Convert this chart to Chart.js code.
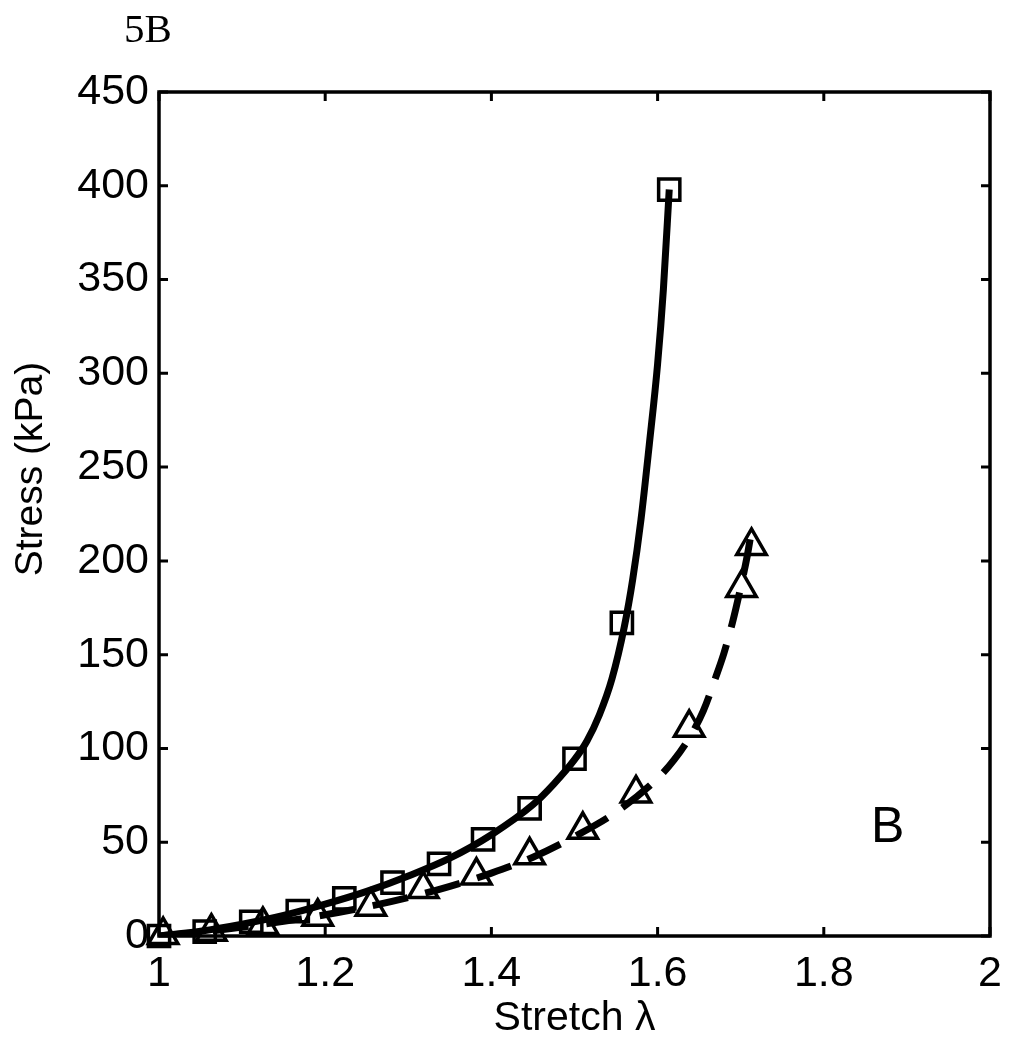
<!DOCTYPE html>
<html>
<head>
<meta charset="utf-8">
<script src="https://cdn.jsdelivr.net/npm/chart.js@4.4.0/dist/chart.umd.min.js"></script>
<style>
  html, body { margin: 0; padding: 0; background: #fff; }
</style>
</head>
<body>
<canvas id="chart" width="1017" height="1050"></canvas>
<script>
// measured points (squares, triangles)
const squareX = [1.0, 1.055, 1.111, 1.167, 1.223, 1.281, 1.337, 1.39, 1.446, 1.5, 1.557, 1.614];
const squareY = [0, 2.3, 7.6, 13.3, 20.1, 28.5, 38.5, 51.5, 68, 94.5, 167, 398];
const triangleX = [1.005, 1.063, 1.125, 1.191, 1.255, 1.318, 1.382, 1.446, 1.51, 1.574, 1.638, 1.701, 1.713];
const triangleY = [0.5, 2.3, 5.9, 10.3, 15.6, 25, 32.2, 43, 56.6, 76, 111, 185.6, 208];

// fitted curves
const solidX = [1.0, 1.05, 1.1, 1.15, 1.2, 1.25, 1.3, 1.35, 1.4, 1.45, 1.475, 1.5, 1.515, 1.53, 1.545, 1.56, 1.57, 1.58, 1.59, 1.6, 1.607, 1.614];
const solidY = [0, 2.5, 6.3, 11, 17, 23.8, 32, 41.5, 54, 70, 81, 94, 104, 118, 137, 165, 190, 222, 262, 305, 345, 398];
const dashedX = [1.0, 1.05, 1.1, 1.15, 1.2, 1.25, 1.3, 1.35, 1.4, 1.45, 1.5, 1.55, 1.6, 1.62, 1.64, 1.655, 1.67, 1.68, 1.69, 1.7, 1.708, 1.713];
const dashedY = [0, 2, 4.8, 7.8, 11.3, 15.5, 20.5, 26.5, 33.5, 42, 53, 66, 84, 94, 107, 120, 138, 151, 167, 186, 203, 216];

const xTicks = [1, 1.2, 1.4, 1.6, 1.8, 2];
const yTicks = [0, 50, 100, 150, 200, 250, 300, 350, 400, 450];

const FONT = "'Liberation Sans', Arial, Helvetica, sans-serif";

function pts(xs, ys) {
  return xs.map((x, i) => ({ x: x, y: ys[i] }));
}

// box with inward ticks on all sides, plus the free text
const frame = {
  id: 'frame',
  afterDraw(chart) {
    const { ctx, chartArea: a, scales } = chart;
    ctx.save();
    ctx.strokeStyle = '#000';
    ctx.lineWidth = 3.5;
    ctx.strokeRect(a.left, a.top, a.right - a.left, a.bottom - a.top);
    ctx.lineWidth = 3;
    ctx.beginPath();
    xTicks.forEach(v => {
      const px = scales.x.getPixelForValue(v);
      ctx.moveTo(px, a.bottom); ctx.lineTo(px, a.bottom - 9);
      ctx.moveTo(px, a.top); ctx.lineTo(px, a.top + 9);
    });
    yTicks.forEach(v => {
      const py = scales.y.getPixelForValue(v);
      ctx.moveTo(a.left, py); ctx.lineTo(a.left + 9, py);
      ctx.moveTo(a.right, py); ctx.lineTo(a.right - 9, py);
    });
    ctx.stroke();

    ctx.fillStyle = '#000';
    // y axis title
    ctx.save();
    ctx.translate(31, 469);
    ctx.rotate(-Math.PI / 2);
    ctx.font = '39px ' + FONT;
    ctx.textAlign = 'center';
    ctx.textBaseline = 'middle';
    ctx.fillText('Stress (kPa)', 0, 0);
    ctx.restore();

    ctx.font = '41px "Liberation Serif", "Times New Roman", serif';
    ctx.textAlign = 'left';
    ctx.textBaseline = 'alphabetic';
    ctx.fillText('5B', 124, 42);

    ctx.font = '50px ' + FONT;
    ctx.fillText('B', 871, 842);
    ctx.restore();
  }
};

new Chart(document.getElementById('chart'), {
  type: 'scatter',
  data: {
    datasets: [
      {
        label: 'fit 1',
        data: pts(solidX, solidY),
        showLine: true,
        borderColor: '#000',
        borderWidth: 7,
        pointRadius: 0,
        cubicInterpolationMode: 'monotone'
      },
      {
        label: 'fit 2',
        data: pts(dashedX, dashedY),
        showLine: true,
        borderColor: '#000',
        borderWidth: 7,
        borderDash: [36, 18],
        pointRadius: 0,
        cubicInterpolationMode: 'monotone'
      },
      {
        label: 'squares',
        data: pts(squareX, squareY),
        pointStyle: 'rect',
        pointRadius: 15,
        pointBorderWidth: 3.5,
        pointBorderColor: '#000',
        pointBackgroundColor: 'rgba(0,0,0,0)',
        clip: false
      },
      {
        label: 'triangles',
        data: pts(triangleX, triangleY),
        pointStyle: 'triangle',
        pointRadius: 17,
        pointBorderWidth: 3.5,
        pointBorderColor: '#000',
        pointBackgroundColor: 'rgba(0,0,0,0)',
        clip: false
      }
    ]
  },
  options: {
    responsive: false,
    animation: false,
    devicePixelRatio: 1,
    layout: {
      padding: { left: 0, top: 92, right: 27, bottom: 0 }
    },
    plugins: {
      legend: { display: false },
      tooltip: { enabled: false }
    },
    scales: {
      x: {
        type: 'linear',
        min: 1,
        max: 2,
        afterBuildTicks: s => { s.ticks = xTicks.map(v => ({ value: v })); },
        afterFit: s => { s.height = 114; },
        grid: { display: false, drawTicks: false },
        border: { display: false },
        ticks: {
          color: '#000',
          padding: 12,
          font: { family: FONT, size: 43 },
          callback: v => String(v)
        },
        title: {
          display: true,
          text: 'Stretch λ',
          color: '#000',
          font: { family: FONT, size: 41 },
          padding: { top: 0, bottom: 7 }
        }
      },
      y: {
        type: 'linear',
        min: 0,
        max: 450,
        afterBuildTicks: s => { s.ticks = yTicks.map(v => ({ value: v })); },
        afterFit: s => { s.width = 159; },
        grid: { display: false, drawTicks: false },
        border: { display: false },
        ticks: {
          color: '#000',
          padding: 10,
          font: { family: FONT, size: 43 },
          callback: v => String(v)
        }
      }
    }
  },
  plugins: [frame]
});
</script>
</body>
</html>
